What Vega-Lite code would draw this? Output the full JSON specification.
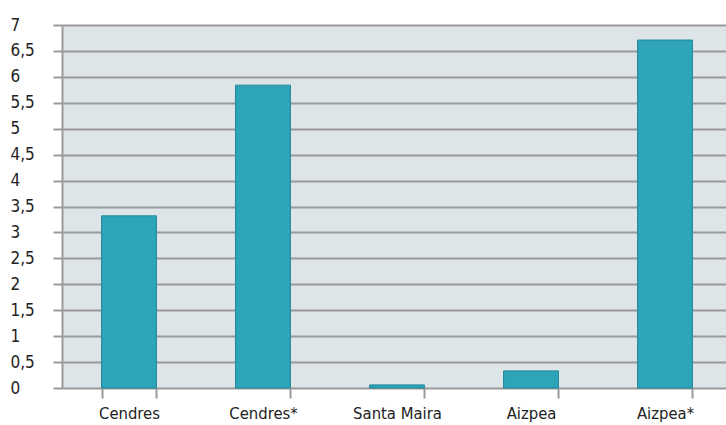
{
  "$schema": "https://vega.github.io/schema/vega-lite/v6.json",
  "width": 670,
  "height": 363,
  "autosize": "none",
  "padding": {"left": 62, "top": 25, "right": 0, "bottom": 37},
  "background": "white",
  "config": {
    "view": {"fill": "#dde5e9", "stroke": null},
    "font": "DejaVu Sans Condensed, Liberation Sans, sans-serif"
  },
  "data": {
    "values": [
      {"site": "Cendres", "value": 3.32},
      {"site": "Cendres*", "value": 5.84},
      {"site": "Santa Maira", "value": 0.06},
      {"site": "Aizpea", "value": 0.33},
      {"site": "Aizpea*", "value": 6.71}
    ]
  },
  "mark": {"type": "bar", "color": "#2ea4b9", "stroke": "#23899b", "strokeWidth": 1},
  "encoding": {
    "x": {
      "field": "site",
      "type": "nominal",
      "sort": null,
      "scale": {"paddingInner": 0.59, "paddingOuter": 0.295},
      "axis": {
        "title": null,
        "labelAngle": 0,
        "labelFontSize": 16.5,
        "labelColor": "#222222",
        "labelPadding": 7,
        "domain": false,
        "tickBand": "extent",
        "tickSize": 10,
        "tickColor": "#999999",
        "tickWidth": 2,
        "grid": false
      }
    },
    "y": {
      "field": "value",
      "type": "quantitative",
      "scale": {"domain": [0, 7], "nice": false},
      "axis": {
        "title": null,
        "values": [0, 0.5, 1, 1.5, 2, 2.5, 3, 3.5, 4, 4.5, 5, 5.5, 6, 6.5, 7],
        "labelExpr": "replace(format(datum.value, '~g'), '.', ',')",
        "labelAlign": "left",
        "labelPadding": 43,
        "labelFontSize": 17,
        "labelColor": "#222222",
        "tickSize": 9,
        "tickColor": "#999999",
        "tickWidth": 2,
        "domainColor": "#999999",
        "domainWidth": 2,
        "grid": true,
        "gridColor": "#999999",
        "gridWidth": 2,
        "gridOpacity": 1
      }
    }
  }
}
